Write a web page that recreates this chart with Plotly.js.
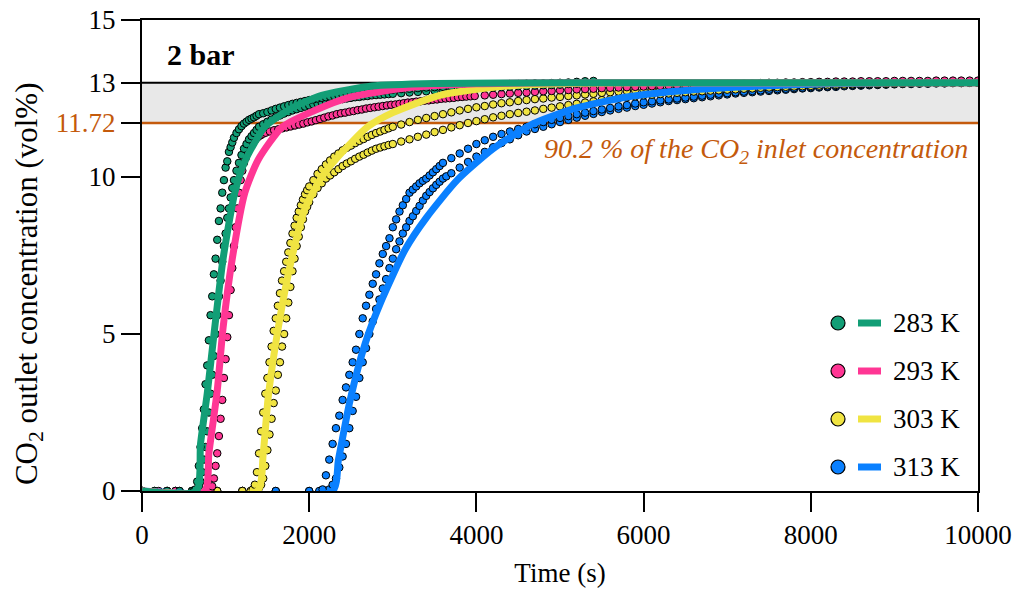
<!DOCTYPE html>
<html>
<head>
<meta charset="utf-8">
<script src="https://cdn.plot.ly/plotly-3.0.1.min.js"></script>
<style>html,body{margin:0;padding:0;background:#fff;}#chart{width:1018px;height:594px;}</style>
</head>
<body>
<div id="chart"></div>
<script>
// ---------- Experimental data: [time (s), CO2 outlet concentration (vol%)] ----------
const exp283a = [[0,0],[150,0],[300,0],[450,0],[600,0],[620,0],[640,0.05],[660,0.3],[680,0.8],[700,1.4],[720,2.0],[740,2.6],[760,3.4],[780,4.0],[800,4.8],[820,5.6],[840,6.2],[860,6.9],[880,7.4],[900,8.0],[920,8.6],[940,9.0],[960,9.5],[980,9.9],[1000,10.3],[1020,10.5],[1040,10.8],[1060,10.95],[1080,11.1],[1100,11.25],
[1130,11.4],[1160,11.52],[1190,11.62],[1220,11.7],[1250,11.76],[1280,11.82],[1310,11.86],[1340,11.9],[1370,11.95],[1400,12.0],
[1450,12.03],[1500,12.07],[1550,12.12],[1600,12.17],[1650,12.21],[1700,12.25],[1750,12.29],[1800,12.33],[1850,12.36],[1900,12.39],[1950,12.42],[2000,12.45],[2050,12.47],[2100,12.5],[2150,12.52],[2200,12.54],[2250,12.56],[2300,12.58],[2350,12.6],[2400,12.61],[2450,12.63],[2500,12.65],[2550,12.66],[2600,12.67],[2650,12.69],[2700,12.7],[2750,12.72],[2800,12.73],[2850,12.74],[2900,12.75],[2950,12.77],[3000,12.78],
[3100,12.8],[3200,12.81],[3300,12.83],[3400,12.85],[3500,12.86],[3600,12.87],[3700,12.88],[3800,12.9],[3900,12.91],[4000,12.92],[4100,12.93],[4200,12.94],[4300,12.95],[4400,12.96],[4500,12.96],[4600,12.97],[4700,12.98],[4800,12.98],[4900,12.99],[5000,13.0],[5100,13.01],[5200,13.03],[5300,13.05],[5400,13.06]];

const exp283b = [[0,0],[150,0],[300,0],[450,0],[600,0],[620,0],[640,0],[660,0.05],[680,0.15],[700,0.3],[720,0.6],[740,1.0],[760,1.4],[780,1.9],[800,2.5],[820,3.1],[840,3.7],[860,4.3],[880,5.0],[900,5.6],[920,6.2],[940,6.7],[960,7.3],[980,7.8],[1000,8.2],[1020,8.7],[1040,9.0],[1060,9.35],[1080,9.65],[1100,9.9],
[1130,10.2],[1160,10.45],[1190,10.7],[1220,10.9],[1250,11.05],[1280,11.2],[1310,11.3],[1340,11.4],[1370,11.5],[1400,11.6],
[1450,11.68],[1500,11.76],[1550,11.83],[1600,11.9],[1650,11.96],[1700,12.02],[1750,12.07],[1800,12.12],[1850,12.16],[1900,12.2],[1950,12.24],[2000,12.28],[2050,12.31],[2100,12.34],[2150,12.37],[2200,12.4],[2250,12.42],[2300,12.44],[2350,12.46],[2400,12.48],[2450,12.5],[2500,12.52],[2550,12.54],[2600,12.55],[2650,12.57],[2700,12.58],[2750,12.6],[2800,12.61],[2850,12.62],[2900,12.63],[2950,12.64],[3000,12.65],
[3100,12.67],[3200,12.69],[3300,12.71],[3400,12.73],[3500,12.75],[3600,12.76],[3700,12.78],[3800,12.79],[3900,12.81],[4000,12.82],[4100,12.84],[4200,12.85],[4300,12.86],[4400,12.88],[4500,12.89],[4600,12.9],[4700,12.91],[4800,12.92],[4900,12.93],[5000,12.94],[5100,12.96],[5200,12.97],[5300,12.99],[5400,13.0]];

const exp293 = [[0,0],[200,0],[400,0],[600,0],[800,0],[820,0.05],[840,0.15],[860,0.4],[880,0.8],[900,1.2],[920,1.75],[940,2.3],[960,2.9],[980,3.6],[1000,4.2],[1020,4.9],[1040,5.6],[1060,6.4],[1080,7.1],[1100,7.8],[1120,8.4],[1140,9.0],[1160,9.5],[1180,9.9],[1200,10.2],[1220,10.45],[1240,10.6],
[1270,10.8],[1300,10.98],[1330,11.1],[1360,11.2],[1390,11.28],[1420,11.33],[1450,11.38],[1480,11.41],
[1530,11.45],[1580,11.49],[1630,11.52],[1680,11.55],[1730,11.58],[1780,11.61],[1830,11.64],[1880,11.67],[1930,11.7],[1980,11.74],[2030,11.77],[2080,11.81],[2130,11.85],[2180,11.89],[2230,11.93],[2280,11.96],[2330,12.0],[2380,12.03],[2430,12.05],[2480,12.08],[2530,12.1],[2580,12.13],[2630,12.15],[2680,12.18],[2730,12.2],[2780,12.22],[2830,12.24],[2880,12.26],[2930,12.28],[2980,12.3],[3030,12.31],[3080,12.33],[3130,12.35],[3180,12.37],[3230,12.38],[3280,12.4],[3330,12.41],[3380,12.43],[3430,12.44],[3480,12.46],[3530,12.47],[3580,12.49],[3630,12.5],[3680,12.51],[3730,12.52],[3780,12.54],[3830,12.55],[3880,12.56],[3930,12.57],[3980,12.58],
[4100,12.6],[4200,12.62],[4300,12.64],[4400,12.66],[4500,12.68],[4600,12.69],[4700,12.71],[4800,12.73],[4900,12.74],[5000,12.76],[5100,12.77],[5200,12.79],[5300,12.8],[5400,12.81],[5500,12.83],[5600,12.84],[5700,12.85],[5800,12.86],[5900,12.87],[6000,12.88],[6100,12.89],[6200,12.9],[6300,12.91],[6400,12.92],[6500,12.93],[6600,12.93],[6700,12.94],[6800,12.95],[6900,12.96],[7000,12.96],[7100,12.97],[7200,12.98],[7300,12.98],[7400,12.99],[7500,13.0],[7600,13.0],[7700,13.01],[7800,13.01],[7900,13.02],[8000,13.02],[8100,13.03],[8200,13.03],[8300,13.04],[8400,13.04],[8500,13.04],[8600,13.05],[8700,13.05],[8800,13.05],[8900,13.05],[9000,13.06],[9100,13.06],[9200,13.06],[9300,13.06],[9400,13.06],[9500,13.07],[9600,13.07],[9700,13.07],[9800,13.07],[9900,13.07],[10000,13.07]];

const exp303a = [[0,0],[300,0],[600,0],[900,0],[1200,0],[1300,0],[1325,0.05],[1350,0.2],[1375,0.6],[1400,1.2],[1425,1.9],[1450,2.5],[1475,3.1],[1500,3.6],[1525,4.1],[1550,4.6],[1575,5.1],[1600,5.5],[1625,5.9],[1650,6.3],[1675,6.7],[1700,7.0],[1725,7.3],[1750,7.6],[1775,7.9],[1800,8.2],[1825,8.45],[1850,8.7],[1875,8.9],[1900,9.1],[1925,9.28],[1950,9.45],[1975,9.58],[2000,9.7],
[2050,9.9],[2100,10.1],[2150,10.25],[2200,10.4],[2250,10.53],[2300,10.65],[2350,10.75],[2400,10.85],[2450,10.93],[2500,11.0],[2550,11.08],[2600,11.15],[2650,11.21],[2700,11.28],[2750,11.34],[2800,11.4],[2850,11.45],[2900,11.5],[2950,11.55],[3000,11.6],
[3100,11.67],[3200,11.75],[3300,11.82],[3400,11.88],[3500,11.94],[3600,12.0],[3700,12.06],[3800,12.12],[3900,12.17],[4000,12.22],[4100,12.26],[4200,12.31],[4300,12.35],[4400,12.38],[4500,12.42],[4600,12.45],[4700,12.48],[4800,12.5],[4900,12.53],[5000,12.55],[5100,12.58],[5200,12.6],[5300,12.63],[5400,12.65],[5500,12.68],[5600,12.7],[5700,12.72],[5800,12.74],[5900,12.75],[6000,12.77],[6100,12.78],[6200,12.8],[6300,12.81],[6400,12.83],[6500,12.84],[6600,12.85],[6700,12.86],[6800,12.87],[6900,12.89],[7000,12.9],[7100,12.91],[7200,12.91],[7300,12.92],[7400,12.93],[7500,12.94],[7600,12.95],[7700,12.95],[7800,12.96],[7900,12.96],[8000,12.97],[8100,12.97],[8200,12.98],[8300,12.98],[8400,12.99],[8500,12.99],[8600,12.99],[8700,13.0],[8800,13.0],[8900,13.0],[9000,13.0],[9100,13.0],[9200,13.0],[9300,13.01],[9400,13.01],[9500,13.01],[9600,13.01],[9700,13.01],[9800,13.01],[9900,13.01],[10000,13.01]];

const exp303b = [[0,0],[300,0],[600,0],[900,0],[1200,0],[1300,0],[1325,0],[1350,0],[1375,0.05],[1400,0.1],[1425,0.2],[1450,0.4],[1475,0.8],[1500,1.3],[1525,1.8],[1550,2.3],[1575,2.8],[1600,3.2],[1625,3.7],[1650,4.1],[1675,4.6],[1700,5.0],[1725,5.5],[1750,6.0],[1775,6.5],[1800,7.0],[1825,7.4],[1850,7.8],[1875,8.1],[1900,8.4],[1925,8.65],[1950,8.9],[1975,9.05],[2000,9.2],
[2050,9.45],[2100,9.65],[2150,9.8],[2200,9.95],[2250,10.05],[2300,10.15],[2350,10.25],[2400,10.35],[2450,10.43],[2500,10.5],[2550,10.58],[2600,10.65],[2650,10.71],[2700,10.78],[2750,10.84],[2800,10.9],[2850,10.94],[2900,10.98],[2950,11.02],[3000,11.05],
[3100,11.13],[3200,11.2],[3300,11.28],[3400,11.35],[3500,11.43],[3600,11.5],[3700,11.58],[3800,11.65],[3900,11.72],[4000,11.78],[4100,11.84],[4200,11.9],[4300,11.95],[4400,12.0],[4500,12.04],[4600,12.08],[4700,12.12],[4800,12.17],[4900,12.21],[5000,12.25],[5100,12.29],[5200,12.33],[5300,12.37],[5400,12.41],[5500,12.45],[5600,12.48],[5700,12.51],[5800,12.54],[5900,12.57],[6000,12.6],[6100,12.62],[6200,12.64],[6300,12.66],[6400,12.68],[6500,12.7],[6600,12.72],[6700,12.73],[6800,12.75],[6900,12.76],[7000,12.78],[7100,12.79],[7200,12.81],[7300,12.82],[7400,12.84],[7500,12.85],[7600,12.86],[7700,12.87],[7800,12.88],[7900,12.89],[8000,12.9],[8100,12.91],[8200,12.92],[8300,12.93],[8400,12.94],[8500,12.95],[8600,12.96],[8700,12.96],[8800,12.97],[8900,12.97],[9000,12.98],[9100,12.98],[9200,12.99],[9300,12.99],[9400,13.0],[9500,13.0],[9600,13.0],[9700,13.0],[9800,13.0],[9900,13.0],[10000,13.0]];

const exp313a = [[0,0],[400,0],[800,0],[1200,0],[1600,0],[2000,0],[2120,0],[2160,0.05],[2200,0.5],[2240,1.0],[2280,1.5],[2320,2.0],[2360,2.4],[2400,2.9],[2440,3.3],[2480,3.7],[2520,4.1],[2560,4.5],[2600,5.0],[2640,5.5],[2680,5.9],[2720,6.25],[2760,6.6],[2800,6.9],[2840,7.25],[2880,7.55],[2920,7.8],[2960,8.05],[3000,8.4],[3040,8.65],[3080,8.9],[3120,9.1],[3160,9.3],[3200,9.5],[3240,9.6],[3280,9.7],[3320,9.8],[3360,9.88],[3400,9.95],[3440,10.05],[3480,10.15],[3520,10.25],[3560,10.35],[3600,10.45],
[3700,10.6],[3800,10.75],[3900,10.9],[4000,11.05],[4100,11.17],[4200,11.28],[4300,11.37],[4400,11.45],[4500,11.53],[4600,11.6],[4700,11.68],[4800,11.75],[4900,11.82],[5000,11.88],[5100,11.94],[5200,12.0],[5300,12.05],[5400,12.1],[5500,12.15],[5600,12.2],[5700,12.25],[5800,12.29],[5900,12.34],[6000,12.38],[6100,12.41],[6200,12.44],[6300,12.47],[6400,12.5],[6500,12.53],[6600,12.56],[6700,12.59],[6800,12.62],[6900,12.65],[7000,12.67],[7100,12.7],[7200,12.72],[7300,12.74],[7400,12.76],[7500,12.78],[7600,12.8],[7700,12.81],[7800,12.83],[7900,12.84],[8000,12.86],[8100,12.87],[8200,12.88],[8300,12.9],[8400,12.91],[8500,12.92],[8600,12.93],[8700,12.94],[8800,12.95],[8900,12.96],[9000,12.97],[9100,12.97],[9200,12.98],[9300,12.99],[9400,12.99],[9500,13.0],[9600,13.0],[9700,13.0],[9800,13.0],[9900,13.0],[10000,13.0]];

const exp313b = [[0,0],[400,0],[800,0],[1200,0],[1600,0],[2000,0],[2200,0],[2240,0.05],[2280,0.2],[2320,0.4],[2360,0.75],[2400,1.1],[2440,1.5],[2480,2.0],[2520,2.55],[2560,3.0],[2600,3.6],[2640,4.1],[2680,4.55],[2720,5.0],[2760,5.4],[2800,5.8],[2840,6.1],[2880,6.45],[2920,6.75],[2960,7.1],[3000,7.4],[3040,7.7],[3080,7.95],[3120,8.2],[3160,8.4],[3200,8.6],[3240,8.75],[3280,8.92],[3320,9.08],[3360,9.25],[3400,9.4],[3440,9.52],[3480,9.64],[3520,9.75],[3560,9.85],[3600,9.95],[3640,10.02],
[3700,10.12],[3800,10.3],[3900,10.48],[4000,10.65],[4100,10.8],[4200,10.95],[4300,11.08],[4400,11.2],[4500,11.33],[4600,11.45],[4700,11.53],[4800,11.6],[4900,11.68],[5000,11.75],[5100,11.82],[5200,11.89],[5300,11.95],[5400,12.01],[5500,12.07],[5600,12.12],[5700,12.17],[5800,12.21],[5900,12.26],[6000,12.3],[6100,12.34],[6200,12.38],[6300,12.42],[6400,12.45],[6500,12.48],[6600,12.51],[6700,12.54],[6800,12.57],[6900,12.6],[7000,12.63],[7100,12.66],[7200,12.68],[7300,12.7],[7400,12.72],[7500,12.74],[7600,12.76],[7700,12.78],[7800,12.8],[7900,12.82],[8000,12.83],[8100,12.85],[8200,12.86],[8300,12.87],[8400,12.89],[8500,12.9],[8600,12.91],[8700,12.92],[8800,12.93],[8900,12.94],[9000,12.95],[9100,12.96],[9200,12.96],[9300,12.97],[9400,12.97],[9500,12.98],[9600,12.98],[9700,12.99],[9800,12.99],[9900,13.0],[10000,13.0]];

// ---------- Model curves ----------
const m283t = [0,650,700,780,870,970,1110,1230,1470,1760,2150,2750,3500,5000,10000];
const m283c = [0,0,1.5,3.1,5.2,7.4,9.5,10.5,11.6,12.15,12.6,12.9,12.98,13.0,13.0];
const m293t = [0,750,800,900,970,1080,1230,1390,1680,2050,2500,3200,4000,5000,10000];
const m293c = [0,0,1.2,3.2,5.2,7.4,9.5,10.55,11.6,12.1,12.55,12.85,12.97,13.0,13.0];
const m303t = [0,1380,1450,1510,1630,1790,1950,2150,2330,2700,3000,3560,4280,5000,6000,10000];
const m303c = [0,0,1.2,3.0,5.2,7.4,9.0,10.0,10.6,11.6,12.05,12.6,12.88,12.97,13.0,13.0];
const m313t = [0,2280,2350,2490,2670,2870,3150,3400,3770,4200,4680,5200,5800,6600,7400,8200,9000,10000];
const m313c = [0,0,1.0,2.9,4.7,6.1,7.7,8.7,9.9,10.9,11.7,12.2,12.55,12.78,12.9,12.97,13.0,13.0];

const seriesNames = ['283 K','293 K','303 K','313 K'];
const seriesColors = ['#129E76','#FF3694','#F0E442','#0A80FF'];

const inletConc = 13;
const thresholdConc = 11.72;
const yTickVals = [0,5,10,11.72,13,15];
const yTickText = ['0','5','10','<span style="color:#C45A0C">11.72</span>','13','15'];
const xTickVals = [0,2000,4000,6000,8000,10000];
const xTickText = ['0','2000','4000','6000','8000','10000'];

// ---------- Traces ----------
function markerTrace(pairs, color) {
  return {x: pairs.map(function(p){return p[0];}), y: pairs.map(function(p){return p[1];}),
    type: 'scatter', mode: 'markers', showlegend: false, hoverinfo: 'skip',
    marker: {size: 7.5, color: color, line: {color: '#000', width: 1}}};
}
function modelTrace(x, y, color) {
  return {x: x, y: y, type: 'scatter', mode: 'lines', showlegend: false, hoverinfo: 'skip',
    line: {color: color, width: 7, shape: 'spline', smoothing: 0.6}};
}
const traces = [
  markerTrace(exp313b, seriesColors[3]),
  markerTrace(exp313a, seriesColors[3]),
  markerTrace(exp303b, seriesColors[2]),
  markerTrace(exp303a, seriesColors[2]),
  markerTrace(exp293, seriesColors[1]),
  markerTrace(exp283b, seriesColors[0]),
  markerTrace(exp283a, seriesColors[0]),
  modelTrace(m313t, m313c, seriesColors[3]),
  modelTrace(m303t, m303c, seriesColors[2]),
  modelTrace(m293t, m293c, seriesColors[1]),
  modelTrace(m283t, m283c, seriesColors[0])
];

// ---------- Decorations and manual legend ----------
const FONT = 'Liberation Serif, Times New Roman, serif';
const shapes = [
  {type: 'rect', xref: 'paper', yref: 'y', x0: 0, x1: 1, y0: thresholdConc, y1: inletConc,
   fillcolor: '#E8E8E8', line: {width: 0}, layer: 'below'},
  {type: 'line', xref: 'paper', yref: 'y', x0: 0, x1: 1, y0: thresholdConc, y1: thresholdConc,
   line: {color: '#C45A0C', width: 2.5}, layer: 'below'},
  {type: 'line', xref: 'paper', yref: 'y', x0: 0, x1: 1, y0: inletConc, y1: inletConc,
   line: {color: '#000', width: 2}, layer: 'below'}
];
const annotations = [
  {xref: 'paper', yref: 'paper', x: 0.027, y: 0.926, xanchor: 'left', yanchor: 'middle', showarrow: false,
   text: '<b>2 bar</b>', font: {family: FONT, size: 30, color: '#000'}},
  {xref: 'paper', yref: 'paper', x: 0.990, y: 0.722, xanchor: 'right', yanchor: 'middle', showarrow: false,
   text: '<i>90.2 % of the CO<sub>2</sub> inlet concentration</i>', font: {family: FONT, size: 28, color: '#C45A0C'}},
  {xref: 'paper', yref: 'paper', x: -0.136, y: 0.44, xanchor: 'center', yanchor: 'middle', showarrow: false, textangle: -90,
   text: 'CO<sub>2</sub> outlet concentration (vol%)', font: {family: FONT, size: 31, color: '#000'}}
];
const legendRowsPx = [323, 371, 419, 467];
const W = 836, H = 471, L = 142, T = 20;
const yp = function(p) { return (T + H - p) / H; };
const xp = function(p) { return (p - L) / W; };
seriesNames.forEach(function(name, i) {
  const py = legendRowsPx[i];
  shapes.push({type: 'circle', xref: 'paper', yref: 'paper', x0: xp(831), x1: xp(845), y0: yp(py + 7), y1: yp(py - 7),
    fillcolor: seriesColors[i], line: {color: '#000', width: 1.2}});
  shapes.push({type: 'line', xref: 'paper', yref: 'paper', x0: xp(858), x1: xp(881), y0: yp(py), y1: yp(py),
    line: {color: seriesColors[i], width: 7}});
  annotations.push({xref: 'paper', yref: 'paper', x: xp(891), y: yp(py), xanchor: 'left', yanchor: 'middle',
    showarrow: false, text: name, font: {family: FONT, size: 27, color: '#000'}});
});

const layout = {
  width: 1018, height: 594,
  margin: {l: 142, r: 40, t: 20, b: 103},
  paper_bgcolor: '#fff', plot_bgcolor: '#fff',
  font: {family: FONT, size: 27, color: '#000'},
  showlegend: false,
  xaxis: {
    range: [0, 10000], tickvals: xTickVals, ticktext: xTickText, ticks: 'outside', ticklen: 19, tickwidth: 2, tickcolor: '#000',
    showline: true, linewidth: 2, linecolor: '#000', mirror: true, showgrid: false, zeroline: false,
    tickfont: {family: FONT, size: 27, color: '#000'},
    title: {text: 'Time (s)', font: {family: FONT, size: 27, color: '#000'}, standoff: 14}
  },
  yaxis: {
    range: [0, 15], tickvals: yTickVals, ticktext: yTickText, ticks: 'outside', ticklen: 19, tickwidth: 2, tickcolor: '#000',
    showline: true, linewidth: 2, linecolor: '#000', mirror: true, showgrid: false, zeroline: false,
    tickfont: {family: FONT, size: 27, color: '#000'},
    title: {text: ''}
  },
  shapes: shapes,
  annotations: annotations
};

Plotly.newPlot('chart', traces, layout, {displayModeBar: false, responsive: false});
</script>
</body>
</html>
